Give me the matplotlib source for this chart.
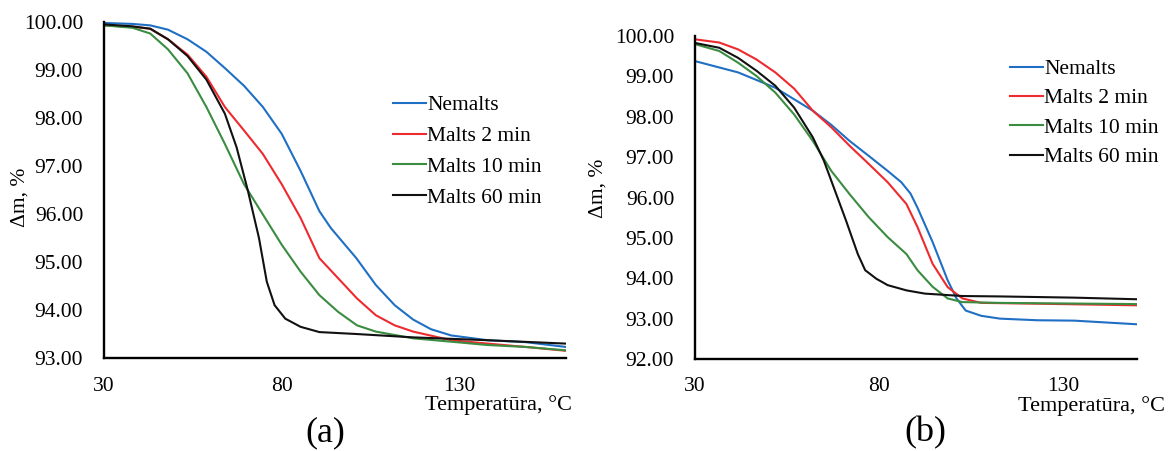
import matplotlib.pyplot as plt

plt.rcParams['font.family'] = ['Liberation Serif', 'DejaVu Serif']

SERIES_NAMES = ['Nemalts', 'Malts 2 min', 'Malts 10 min', 'Malts 60 min']
COLORS = ['#1f6fc4', '#ee2a2f', '#3a8c40', '#111111']
X_TICKS = [30, 80, 130]

# panel (a)
a_temp_nemalts = [30, 38, 43, 48, 53.5, 58.8, 64, 69.4, 74.7, 80, 85.3, 90.6, 93.8,
                  101, 106.5, 111.8, 117, 122, 127.7, 138, 148.7, 160]
a_mass_nemalts = [99.98, 99.96, 99.93, 99.84, 99.64, 99.38, 99.04, 98.67, 98.23, 97.67,
                  96.9, 96.06, 95.71, 95.08, 94.52, 94.1, 93.8, 93.6, 93.47, 93.37,
                  93.33, 93.23]
a_temp_2min = [30, 38, 43, 48, 53.5, 58.8, 64, 69.4, 74.7, 80, 85.3, 90.6, 95.9, 101.2,
               106.5, 111.8, 117, 127.7, 138, 148.7, 160]
a_mass_2min = [99.93, 99.9, 99.86, 99.64, 99.32, 98.86, 98.23, 97.74, 97.25, 96.62,
               95.92, 95.08, 94.66, 94.24, 93.89, 93.68, 93.55, 93.37, 93.3, 93.23, 93.15]
a_temp_10min = [30, 38, 43, 48, 53.5, 58.8, 64, 69.4, 74.7, 80, 85.3, 90.6, 95.9,
                101.2, 106.5, 117, 127.7, 138, 148.7, 160]
a_mass_10min = [99.93, 99.88, 99.76, 99.43, 98.93, 98.23, 97.46, 96.62, 95.99, 95.36,
                94.8, 94.31, 93.96, 93.68, 93.55, 93.41, 93.34, 93.27, 93.23, 93.16]
a_temp_60min = [30, 38, 43, 48, 53.5, 58.8, 64, 67.3, 70.5, 73.6, 75.8, 78, 81, 85.3,
                90.6, 101, 117, 138, 160]
a_mass_60min = [99.95, 99.91, 99.86, 99.64, 99.29, 98.8, 98.09, 97.39, 96.48, 95.5,
                94.59, 94.1, 93.82, 93.65, 93.54, 93.5, 93.43, 93.37, 93.3]

# panel (b)
b_temp_nemalts = [30, 41.7, 51.8, 62, 67, 72, 77.2, 82.3, 86, 88.5, 90.4, 94.5, 98.6,
                  101, 103.5, 107.7, 112.8, 122.9, 133, 150]
b_mass_nemalts = [99.38, 99.1, 98.72, 98.15, 97.8, 97.4, 97.03, 96.66, 96.38, 96.1,
                  95.75, 94.9, 93.95, 93.5, 93.2, 93.07, 93.0, 92.96, 92.95, 92.86]
b_temp_2min = [30, 36.6, 41.7, 46.7, 51.8, 56.9, 62, 67, 72, 77.2, 82.3, 87.4, 90.4,
               94.5, 98.6, 102.6, 107.7, 122.9, 150]
b_mass_2min = [99.92, 99.84, 99.67, 99.42, 99.1, 98.7, 98.15, 97.74, 97.28, 96.83,
               96.38, 95.84, 95.27, 94.36, 93.78, 93.5, 93.39, 93.37, 93.33]
b_temp_10min = [30, 36.6, 41.7, 46.7, 51.8, 56.9, 62, 67, 72, 77.2, 82.3, 87.4, 90.4,
                94.5, 98.6, 102.6, 112.8, 150]
b_mass_10min = [99.8, 99.63, 99.34, 99.01, 98.6, 98.06, 97.4, 96.66, 96.08, 95.51,
                95.02, 94.6, 94.2, 93.79, 93.5, 93.41, 93.39, 93.36]
b_temp_60min = [30, 36.6, 41.7, 46.7, 51.8, 56.9, 62, 65, 68, 71, 74.2, 76.2, 79.2,
                82.3, 87.4, 92.4, 102.6, 112.8, 133, 150]
b_mass_60min = [99.83, 99.71, 99.46, 99.14, 98.77, 98.23, 97.49, 96.91, 96.17, 95.43,
                94.6, 94.2, 93.99, 93.83, 93.7, 93.62, 93.56, 93.55, 93.52, 93.48]

FONT_SIZE = 15.5


def draw_panel(ax, temps, masses, xlim, ylim, legend_anchor, spacing, xpad):
    for t, m, name, color in zip(temps, masses, SERIES_NAMES, COLORS):
        ax.plot(t, m, color=color, lw=1.5, label=name)
    ax.set_xlim(*xlim)
    ax.set_ylim(*ylim)
    ax.set_xticks(X_TICKS)
    ax.set_yticks(range(int(ylim[0]), int(ylim[1]) + 1))
    ax.yaxis.set_major_formatter(plt.FormatStrFormatter('%.2f'))
    ax.spines[['top', 'right']].set_visible(False)
    for side in ['left', 'bottom']:
        ax.spines[side].set_linewidth(1.7)
        ax.spines[side].set_color('black')
    ax.tick_params(axis='x', length=0, pad=xpad, labelsize=FONT_SIZE)
    ax.tick_params(axis='y', length=0, pad=15, labelsize=FONT_SIZE)
    ax.legend(loc='upper left', bbox_to_anchor=legend_anchor,
              bbox_transform=ax.figure.transFigure, frameon=False,
              fontsize=FONT_SIZE, handlelength=1.55, handletextpad=0.05,
              borderpad=0, borderaxespad=0, labelspacing=spacing)


def main() -> None:
    fig = plt.figure(figsize=(11.73, 4.51), dpi=100)
    ax_a = fig.add_axes([0.0887, 0.2062, 0.3938, 0.745])
    ax_b = fig.add_axes([0.5925, 0.204, 0.3768, 0.716])

    draw_panel(ax_a,
               [a_temp_nemalts, a_temp_2min, a_temp_10min, a_temp_60min],
               [a_mass_nemalts, a_mass_2min, a_mass_10min, a_mass_60min],
               (30, 160), (93, 100), (0.335, 0.789), 0.5, 14)
    draw_panel(ax_b,
               [b_temp_nemalts, b_temp_2min, b_temp_10min, b_temp_60min],
               [b_mass_nemalts, b_mass_2min, b_mass_10min, b_mass_60min],
               (30, 150), (92, 100), (0.861, 0.869), 0.43, 13)

    fig.text(0.017, 0.563, 'Δm, %', rotation=90, ha='center', va='center',
             fontsize=FONT_SIZE)
    fig.text(0.510, 0.583, 'Δm, %', rotation=90, ha='center', va='center',
             fontsize=FONT_SIZE)
    fig.text(0.4876, 0.103, 'Temperatūra, °C', ha='right', va='center',
             fontsize=FONT_SIZE + 0.5)
    fig.text(0.9932, 0.099, 'Temperatūra, °C', ha='right', va='center',
             fontsize=FONT_SIZE + 0.5)
    fig.text(0.277, 0.040, '(a)', ha='center', va='center', fontsize=26)
    fig.text(0.7886, 0.040, '(b)', ha='center', va='center', fontsize=26)

    fig.savefig('out.png', dpi=100)


if __name__ == '__main__':
    main()
